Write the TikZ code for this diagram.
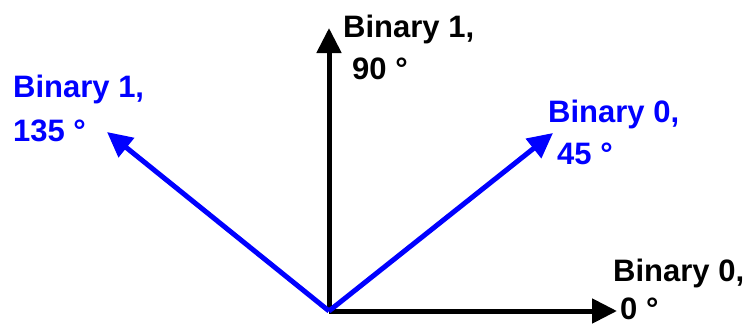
\documentclass[tikz,border=0pt]{standalone}
\usepackage{fontspec}
\setmainfont{Liberation Sans}
\usetikzlibrary{arrows.meta}
\begin{document}
\begin{tikzpicture}[x=1pt,y=-1pt,
  vec/.style={line width=5pt,-{Triangle[length=25pt,width=24pt]}},
  lbl/.style={anchor=north west,inner sep=0pt,align=left,font=\fontsize{31}{42}\selectfont\bfseries}]
\useasboundingbox (0,0) rectangle (749,327);
\coordinate (O) at (329,311);
\coordinate (t0) at (617,311);
\coordinate (t90) at (329,28);
\coordinate (t45) at (553,133);
\coordinate (t135) at (107,132);
\draw[vec,black] (O) -- (t0);
\draw[vec,black] (O) -- (t90);
\draw[vec,blue] (O) -- (t45);
\draw[vec,blue] (O) -- (t135);
\node[lbl,text=blue] (l135) at (13,75) {Binary 1,\\[2pt]135 °};
\node[lbl] (l90) at (343,15) {Binary 1,\\\hspace*{9pt}90 °};
\node[lbl,text=blue] (l45) at (548,100) {Binary 0,\\\hspace*{9pt}45 °};
\node[lbl] (l0) at (613,259) {Binary 0,\\[-4pt]\hspace*{7pt}0 °};
\end{tikzpicture}
\end{document}
